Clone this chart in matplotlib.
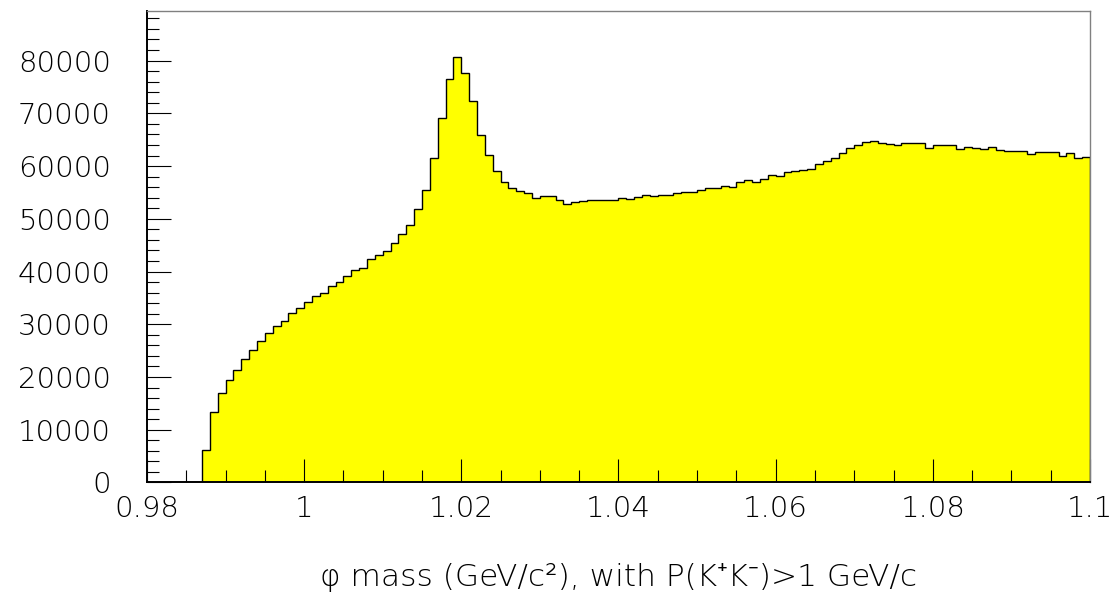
import numpy as np
import matplotlib
matplotlib.use("Agg")
import matplotlib.pyplot as plt
from matplotlib.ticker import MultipleLocator, FuncFormatter

# histogram: 120 bins of 1 MeV between 0.98 and 1.1 GeV/c^2
x_min = 0.98
x_max = 1.1
n_bins = 120

counts = [
    0, 0, 0, 0, 0, 0, 0, 6200, 13400, 16900,
    19400, 21300, 23400, 25200, 26800, 28300, 29700, 30600, 32200, 33000,
    34200, 35400, 36000, 37300, 38000, 39100, 40200, 40700, 42400, 43200,
    43900, 45500, 47100, 48900, 51900, 55400, 61600, 69200, 76600, 80600,
    77700, 72400, 65900, 62100, 59000, 56900, 55900, 55300, 54800, 54000,
    54400, 54400, 53600, 52900, 53200, 53300, 53600, 53600, 53500, 53500,
    54000, 53800, 54200, 54500, 54300, 54500, 54500, 54800, 55000, 55000,
    55400, 55800, 55800, 56300, 56000, 56900, 57400, 57000, 57500, 58300,
    58100, 58800, 59000, 59200, 59400, 60400, 60900, 61600, 62500, 63500,
    64000, 64600, 64800, 64400, 64100, 64000, 64300, 64300, 64300, 63500,
    64000, 64000, 64000, 63300, 63700, 63500, 63200, 63600, 63100, 62800,
    62900, 62800, 62300, 62600, 62700, 62700, 61900, 62400, 61600, 61700,
]

x_ticks = [0.98, 1.0, 1.02, 1.04, 1.06, 1.08, 1.1]
y_ticks = [0, 10000, 20000, 30000, 40000, 50000, 60000, 70000, 80000]
x_title = "\u03c6 mass (GeV/c\u00b2), with P(K\u207aK\u207b)>1 GeV/c"

edges = np.linspace(x_min, x_max, n_bins + 1)

# thin ROOT-like lettering
plt.rcParams["font.family"] = ["DejaVu Sans", "Noto Sans"]
plt.rcParams["font.weight"] = "light"
plt.rcParams["axes.labelweight"] = "light"

fig = plt.figure(figsize=(11.13, 6.05), dpi=100)
ax = fig.add_axes([0.1321, 0.2025, 0.8472, 0.7793])

# yellow filled histogram + black outline
ax.stairs(counts, edges, fill=True, color="#ffff00", linewidth=0)
ax.stairs(counts, edges, fill=False, color="black", linewidth=1.0)

ax.set_xlim(x_min, x_max)
ax.set_ylim(0, 89400)

ax.set_xticks(x_ticks)
ax.set_yticks(y_ticks)
ax.xaxis.set_minor_locator(MultipleLocator(0.005))
ax.yaxis.set_minor_locator(MultipleLocator(2000))
ax.xaxis.set_major_formatter(FuncFormatter(lambda v, p: "%g" % round(v, 3)))
ax.yaxis.set_major_formatter(FuncFormatter(lambda v, p: "%d" % v))

ax.tick_params(which="both", direction="in", top=False, right=False, width=0.8, colors="black")
ax.tick_params(axis="y", which="major", length=17, pad=26, labelsize=21)
ax.tick_params(axis="y", which="minor", length=8.5)
ax.tick_params(axis="x", which="major", length=16.5, pad=9, labelsize=21)
ax.tick_params(axis="x", which="minor", length=8.3)

# ROOT style frame: dark axes, gray top/right
ax.spines["left"].set_linewidth(1.4)
ax.spines["bottom"].set_linewidth(1.4)
ax.spines["top"].set_color("#808080")
ax.spines["right"].set_color("#808080")
ax.spines["top"].set_linewidth(1.0)
ax.spines["right"].set_linewidth(1.0)

ax.set_xlabel(x_title, fontsize=22.5, color="black", fontweight="light")
ax.xaxis.set_label_coords(0.5, -0.17)

fig.savefig("out.png", dpi=100)
